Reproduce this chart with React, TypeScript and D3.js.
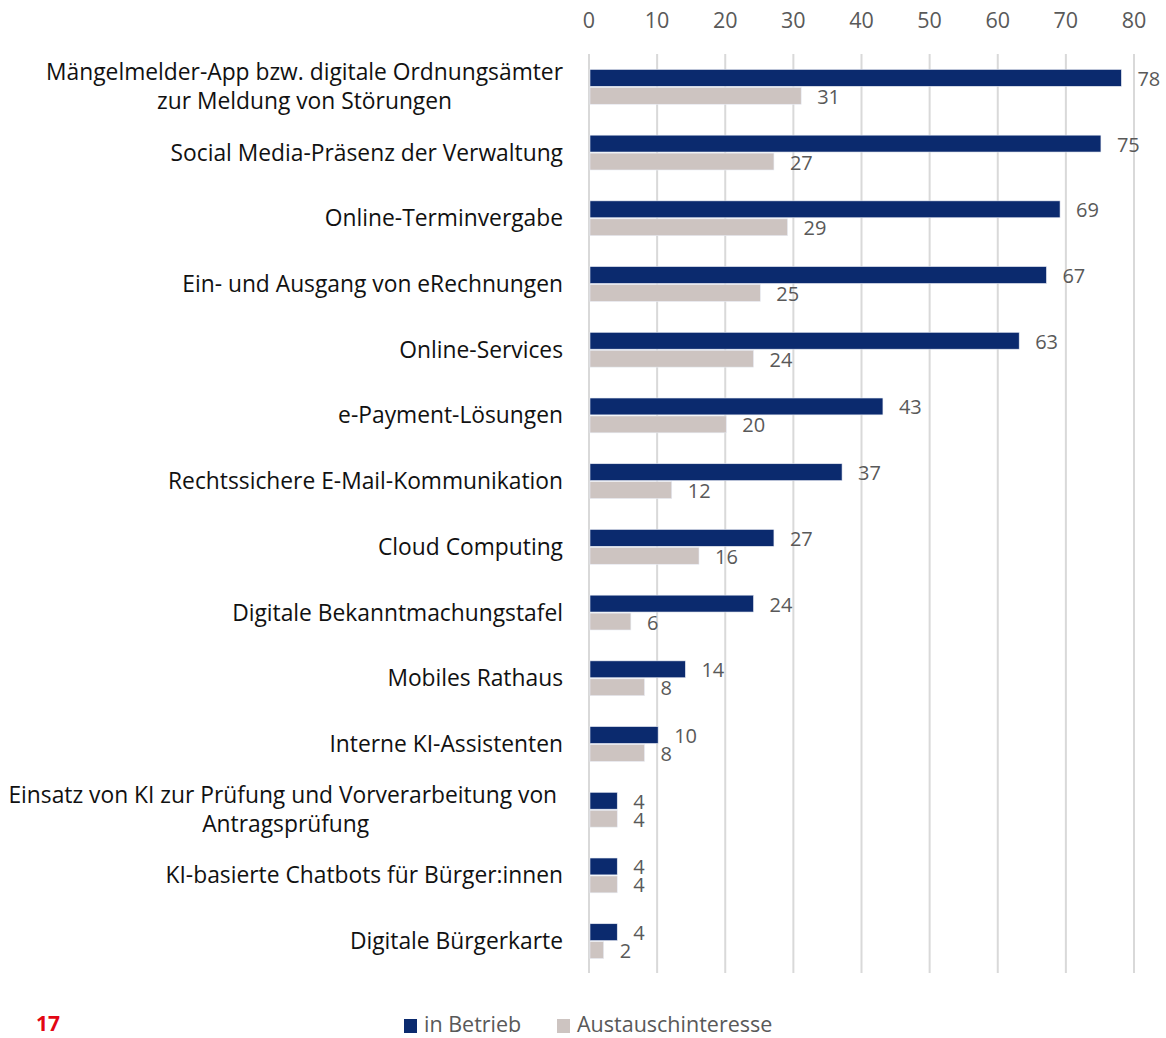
import React, { useEffect, useRef } from "react";
import * as d3 from "d3";

const categories: string[][] = [
  ["Mängelmelder-App bzw. digitale Ordnungsämter", "zur Meldung von Störungen"],
  ["Social Media-Präsenz der Verwaltung"],
  ["Online-Terminvergabe"],
  ["Ein- und Ausgang von eRechnungen"],
  ["Online-Services"],
  ["e-Payment-Lösungen"],
  ["Rechtssichere E-Mail-Kommunikation"],
  ["Cloud Computing"],
  ["Digitale Bekanntmachungstafel"],
  ["Mobiles Rathaus"],
  ["Interne KI-Assistenten"],
  ["Einsatz von KI zur Prüfung und Vorverarbeitung von ", "Antragsprüfung"],
  ["KI-basierte Chatbots für Bürger:innen"],
  ["Digitale Bürgerkarte"],
];
const inBetrieb: number[] = [78, 75, 69, 67, 63, 43, 37, 27, 24, 14, 10, 4, 4, 4];
const austausch: number[] = [31, 27, 29, 25, 24, 20, 12, 16, 6, 8, 8, 4, 4, 2];
const ticks: number[] = [0, 10, 20, 30, 40, 50, 60, 70, 80];
const seriesNames: string[] = ["in Betrieb", "Austauschinteresse"];
const colors: string[] = ["#0b2a6e", "#cdc4c1"];
const pageNumber = "17";

const W = 1166;
const H = 1038;
const FONT = "'Open Sans', 'Noto Sans', sans-serif";

export default function App() {
  const ref = useRef<SVGSVGElement>(null);
  useEffect(() => {
    const svg = d3.select(ref.current);
    svg.selectAll("*").remove();

    const x = d3.scaleLinear().domain([0, 80]).range([589, 1134]);
    const y = d3
      .scaleBand<number>()
      .domain(d3.range(categories.length))
      .range([54, 974])
      .paddingInner(0.47)
      .paddingOuter(0.235);
    const sub = d3.scaleBand<number>().domain([0, 1]).range([0, y.bandwidth()]).paddingInner(0.06);

    // gridlines
    svg
      .append("g")
      .selectAll("line")
      .data(ticks)
      .join("line")
      .attr("x1", (d) => x(d))
      .attr("x2", (d) => x(d))
      .attr("y1", 54)
      .attr("y2", 973)
      .attr("stroke", "#d9d9d9")
      .attr("stroke-width", 2);

    // tick labels
    svg
      .append("g")
      .selectAll("text")
      .data(ticks)
      .join("text")
      .attr("x", (d) => x(d))
      .attr("y", 20)
      .attr("dy", "0.35em")
      .attr("text-anchor", "middle")
      .attr("font-family", FONT)
      .attr("font-size", 21.5)
      .attr("fill", "#595959")
      .text((d) => String(d));

    const series = [inBetrieb, austausch];
    series.forEach((vals, si) => {
      const g = svg.append("g");
      g.selectAll("rect")
        .data(vals)
        .join("rect")
        .attr("x", x(0) + 1)
        .attr("y", (_, i) => (y(i) as number) + (sub(si) as number))
        .attr("width", (d) => x(d) - x(0))
        .attr("height", sub.bandwidth())
        .attr("fill", colors[si])
        .attr("stroke", "#e8ecf4")
        .attr("stroke-width", 0.6);
      g.selectAll("text")
        .data(vals)
        .join("text")
        .attr("x", (d) => x(d) + 17)
        .attr("y", (_, i) => (y(i) as number) + (sub(si) as number) + sub.bandwidth() / 2 + 1)
        .attr("dy", "0.35em")
        .attr("font-family", FONT)
        .attr("font-size", 20)
        .attr("fill", "#595959")
        .text((d) => String(d));
    });

    // category labels
    const labelRight = 563;
    const lineH = 29;
    categories.forEach((lines, i) => {
      const cy = (y(i) as number) + y.bandwidth() / 2;
      const g = svg.append("g");
      const texts = lines.map((ln, li) =>
        g
          .append("text")
          .attr("y", cy + (li - (lines.length - 1) / 2) * lineH)
          .attr("dy", "0.35em")
          .attr("font-family", FONT)
          .attr("font-size", 22.8)
          .attr("fill", "#111")
          .style("white-space", "pre")
          .attr("text-anchor", "start")
          .text(ln)
      );
      const widths = texts.map((t) => (t.node() as SVGTextElement).getComputedTextLength());
      const maxW = Math.max(...widths);
      const cx = labelRight - maxW / 2;
      texts.forEach((t, li) => {
        t.attr("x", cx - widths[li] / 2);
      });
    });

    // legend
    const legend = svg.append("g");
    const legendX = [404, 557];
    seriesNames.forEach((name, si) => {
      legend
        .append("rect")
        .attr("x", legendX[si])
        .attr("y", 1019)
        .attr("width", 13)
        .attr("height", 14)
        .attr("fill", colors[si]);
      legend
        .append("text")
        .attr("x", legendX[si] + 20)
        .attr("y", 1024)
        .attr("dy", "0.35em")
        .attr("font-family", FONT)
        .attr("font-size", 21.5)
        .attr("fill", "#595959")
        .text(name);
    });

    svg
      .append("text")
      .attr("x", 36)
      .attr("y", 1024)
      .attr("dy", "0.35em")
      .attr("font-family", FONT)
      .attr("font-size", 21)
      .attr("font-weight", "bold")
      .attr("fill", "#e30613")
      .text(pageNumber);
  }, []);

  return (
    <svg
      ref={ref}
      width={W}
      height={H}
      style={{ position: "absolute", left: 0, top: 0, background: "#fff" }}
    />
  );
}
